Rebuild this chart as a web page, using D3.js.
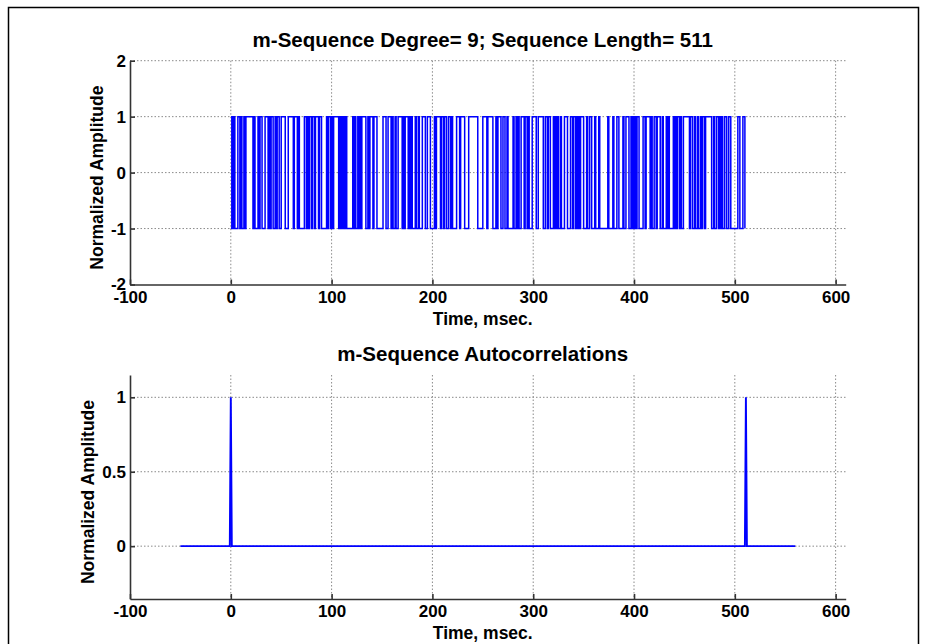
<!DOCTYPE html>
<html>
<head>
<meta charset="utf-8">
<script src="https://cdn.jsdelivr.net/npm/d3@7"></script>
<style>
  body { margin: 0; background: #fff; }
  svg { display: block; font-family: "Liberation Sans", Arial, sans-serif; font-weight: bold; }
</style>
</head>
<body>
<svg id="chart" width="926" height="644"></svg>
<script>
// x axis shared by both panels
const xDomain = [-100, 610];
const xTicks = [-100, 0, 100, 200, 300, 400, 500, 600];

// top panel: degree-9 m-sequence, 511 chips (1 -> +1, 0 -> -1), time 0..510
const mseqBits = [
  '01010',
  '0011010010', '1111111010', '0010110001', '1101011001', '0110011110',
  '0011111011', '1010000011', '0101101101', '1101100000', '1011010111',
  '1101010101', '0000001010', '0101011110', '0101110111', '0000001110',
  '0111010010', '0111101011', '1010100010', '0100011100', '1110000101',
  '1110110110', '0110100001', '1101111000', '0',
  '1111111110', '0000111101', '1111000101', '1100110010', '0000100101',
  '0011101101', '0001111001', '1111001101', '1000101010', '0100011100',
  '0110110101', '0111000100', '1100010001', '0000000010', '0001000110',
  '0001001110', '0101010110', '0001101111', '0100110111', '0010001010',
  '0001010110', '1001111110', '1100100100', '1011011111', '1001001101',
  '0100110011', '0000000110', '00110'
];
const seqYDomain = [-2, 2];
const seqYTicks = [-2, -1, 0, 1, 2];

// bottom panel: autocorrelation
const acfLags = [-50, -1, 0, 1, 510, 511, 512, 560];
const acfValues = [0, 0, 1, 0, 0, 1, 0, 0];
const acfYDomain = [-0.355, 1.15];
const acfYTicks = [0, 0.5, 1];

const titles = ['m-Sequence Degree= 9; Sequence Length= 511', 'm-Sequence Autocorrelations'];
const xLabel = 'Time, msec.';
const yLabel = 'Normalized Amplitude';

const svg = d3.select('#chart');
svg.append('rect').attr('width', 926).attr('height', 644).attr('fill', '#fff');
// figure frame
svg.append('rect')
  .attr('x', 8.5).attr('y', 7.5)
  .attr('width', 910).attr('height', 700)
  .attr('fill', 'none').attr('stroke', '#000').attr('stroke-width', 1.5);

const left = 130, right = 845.7;

function panel(top, bottom, yDomain, yTicks, title, data, lineWidth, yLabelX) {
  const x = d3.scaleLinear().domain(xDomain).range([left, right]);
  const y = d3.scaleLinear().domain(yDomain).range([bottom, top]);
  const g = svg.append('g');

  // dotted grid
  const grid = g.append('g')
    .attr('stroke', '#8a8a8a').attr('stroke-width', 1).attr('stroke-dasharray', '1.5,2');
  grid.selectAll('.gx').data(xTicks.filter(d => d !== xDomain[0])).enter().append('line')
    .attr('x1', d => x(d)).attr('x2', d => x(d))
    .attr('y1', top).attr('y2', bottom);
  grid.selectAll('.gy').data(yTicks.filter(d => d !== yDomain[0])).enter().append('line')
    .attr('x1', left).attr('x2', right)
    .attr('y1', d => y(d)).attr('y2', d => y(d));

  // the signal
  g.append('path')
    .datum(data)
    .attr('fill', 'none')
    .attr('stroke', '#0000ff')
    .attr('stroke-width', lineWidth)
    .attr('d', d3.line().x(d => x(d[0])).y(d => y(d[1])).curve(data.step ? d3.curveStepAfter : d3.curveLinear));

  // axes, ticks pointing in
  const xAxis = g.append('g')
    .attr('transform', `translate(0,${bottom})`)
    .call(d3.axisBottom(x).tickValues(xTicks).tickFormat(d => String(d))
      .tickSizeInner(-5).tickSizeOuter(0).tickPadding(6));
  const yAxis = g.append('g')
    .attr('transform', `translate(${left},0)`)
    .call(d3.axisLeft(y).tickValues(yTicks).tickFormat(d => String(d))
      .tickSizeInner(-5).tickSizeOuter(0).tickPadding(4));
  for (const a of [xAxis, yAxis]) {
    a.select('.domain').attr('stroke', '#333').attr('stroke-width', 1.6);
    a.selectAll('.tick line').attr('stroke', '#333').attr('stroke-width', 1.6);
    a.selectAll('.tick text')
      .attr('fill', '#000')
      .style('font-size', '17px')
      .style('font-weight', 'bold')
      .style('font-family', '"Liberation Sans", Arial, sans-serif');
  }

  g.append('text')
    .attr('x', (left + 835.5) / 2).attr('y', top - 14)
    .attr('text-anchor', 'middle')
    .attr('font-size', 20.5)
    .text(title);

  g.append('text')
    .attr('x', (left + 835.5) / 2).attr('y', bottom + 40)
    .attr('text-anchor', 'middle')
    .attr('font-size', 17.5)
    .text(xLabel);

  g.append('text')
    .attr('transform', `translate(${yLabelX},${(top + bottom) / 2 + 5}) rotate(-90)`)
    .attr('text-anchor', 'middle')
    .attr('font-size', 17.5)
    .text(yLabel);
}

const seqValues = mseqBits.join('').split('').map(b => (b === '1' ? 1 : -1));
const seqData = seqValues.map((v, i) => [i, v]);
seqData.step = true;
const acfData = acfLags.map((t, i) => [t, acfValues[i]]);

panel(60.7, 284.5, seqYDomain, seqYTicks, titles[0], seqData, 1.5, 103);
panel(375, 599, acfYDomain, acfYTicks, titles[1], acfData, 1.9, 94);
</script>
</body>
</html>
